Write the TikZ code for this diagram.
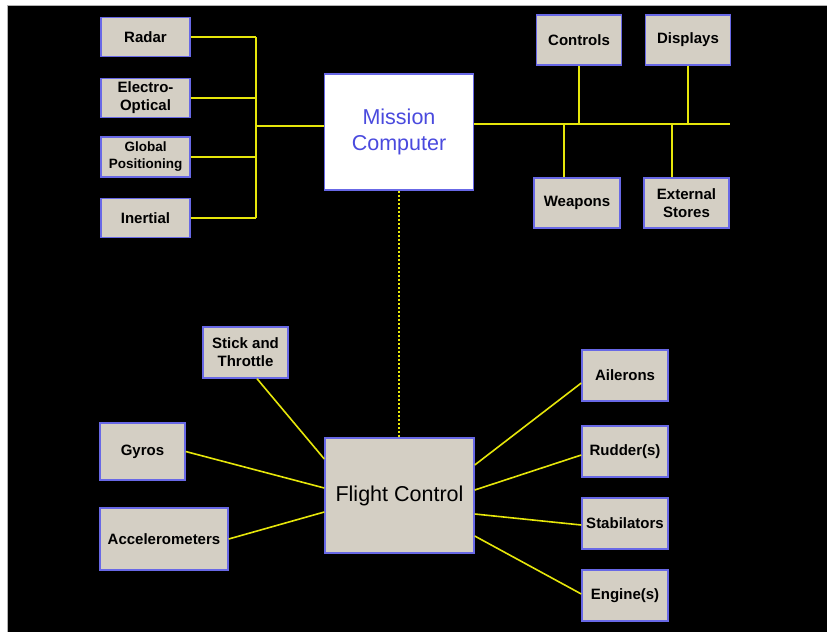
\documentclass[tikz,border=0pt]{standalone}
\usepackage{fontspec}
\setmainfont{Liberation Sans}
\usetikzlibrary{calc}

\definecolor{boxfill}{RGB}{212,207,196}
\definecolor{boxline}{RGB}{104,104,230}
\definecolor{busline}{RGB}{230,230,10}
\definecolor{titleblue}{RGB}{74,74,222}

\begin{document}
\begin{tikzpicture}[x=1pt,y=-1pt,
    unit/.style={draw=boxline,line width=1.4pt,fill=boxfill,align=center,inner sep=0pt,
                 font=\bfseries\fontsize{15}{18}\selectfont},
    small/.style={minimum width=89pt,minimum height=39pt},
    bay/.style={minimum width=85pt,minimum height=50pt},
    core/.style={minimum width=149pt,minimum height=116pt,
                 font=\fontsize{21.5}{26}\selectfont},
    wire/.style={draw=busline,line width=1.6pt},
    link/.style={draw=busline,line width=2.5pt,dash pattern=on 2.4pt off 1.6pt}]
\useasboundingbox (0,0) rectangle (827,632);
\fill[white] (0,0) rectangle (827,632);
\fill[black] (8,6) rectangle (827,632);
\draw[gray!60,line width=1pt] (7.5,632) -- (7.5,5.5) -- (827,5.5);

% sensors and mission computer
\begin{scope}[every node/.style={unit}]
    \node[small] (Radar) at (145.5,37) {Radar};
    \node[small] (Electro) at (145.5,98) {Electro-\\Optical};
    \node[small,minimum height=40pt,font=\bfseries\fontsize{13.5}{17}\selectfont] (Global) at (145.5,157) {Global\\Positioning};
    \node[small] (Inertial) at (145.5,218) {Inertial};
    \node[core,fill=white,text=titleblue] (Mission) at (399,132) {Mission\\Computer};
    \node[bay] (Controls) at (579,40) {Controls};
    \node[bay] (Displays) at (688,40) {Displays};
    \node[bay,minimum width=86pt] (Weapons) at (577,203) {Weapons};
    \node[bay] (Stores) at (686.5,203) {External\\Stores};
\end{scope}

% flight control and its units
\begin{scope}[every node/.style={unit}]
    \node[core,minimum height=115pt] (Flight) at (399.5,495.5) {Flight Control};
    \node[bay,minimum height=51pt] (Stick) at (245.5,352.5) {Stick and\\Throttle};
    \node[bay,minimum height=57pt] (Gyros) at (142.5,451.5) {Gyros};
    \node[minimum width=128pt,minimum height=62pt] (Accel) at (164,539) {Accelerometers};
    \node[bay,minimum width=86pt,minimum height=51pt] (Ailerons) at (625,375.5) {Ailerons};
    \node[bay,minimum width=86pt,minimum height=51pt] (Rudder) at (625,451.5) {Rudder(s)};
    \node[bay,minimum width=86pt,minimum height=51pt] (Stab) at (625,523.5) {Stabilators};
    \node[bay,minimum width=86pt,minimum height=51pt] (Engine) at (625,595.5) {Engine(s)};
\end{scope}

\coordinate (SensorBus) at (256,126);
\coordinate (MissionBus) at (730,124);

\begin{scope}[every path/.style={wire}]
    \draw (Radar.east -| SensorBus) -- (Inertial.east -| SensorBus);
    \foreach \s in {Radar,Electro,Global,Inertial}
        \draw (\s.east) -- (\s.east -| SensorBus);
    \draw (SensorBus) -- (SensorBus -| Mission.west);
    \draw (MissionBus -| Mission.east) -- (MissionBus);
    \draw (Controls.south) -- (Controls.south |- MissionBus);
    \draw (Displays.south) -- (Displays.south |- MissionBus);
    \draw ([xshift=-13pt]Weapons.north) -- ([xshift=-13pt]Weapons.north |- MissionBus);
    \draw ([xshift=-14.5pt]Stores.north) -- ([xshift=-14.5pt]Stores.north |- MissionBus);
\end{scope}

\path[link] (Mission.south) -- (Mission.south |- Flight.north);

\begin{scope}[every path/.style={wire}]
    \draw ([xshift=11.5pt]Stick.south) -- ([yshift=36.5pt]Flight.west);
    \draw (Gyros.east) -- ([yshift=7.5pt]Flight.west);
    \draw (Accel.east) -- ([yshift=-16.5pt]Flight.west);
    \draw ([yshift=30.5pt]Flight.east) -- ([yshift=-7.5pt]Ailerons.west);
    \draw ([yshift=5.5pt]Flight.east) -- ([yshift=-3.5pt]Rudder.west);
    \draw ([yshift=-18.5pt]Flight.east) -- ([yshift=-1.5pt]Stab.west);
    \draw ([yshift=-40.5pt]Flight.east) -- ([yshift=1.5pt]Engine.west);
\end{scope}
\end{tikzpicture}
\end{document}
